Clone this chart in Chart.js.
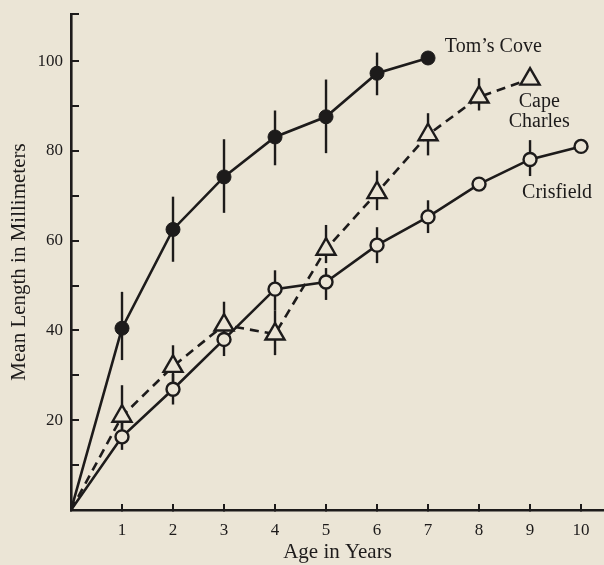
<!DOCTYPE html>
<html>
<head>
<meta charset="utf-8">
<script src="https://cdn.jsdelivr.net/npm/chart.js@4"></script>
<style>
  html, body { margin: 0; padding: 0; background: #ebe5d6; }
  #c { display: block; }
</style>
</head>
<body>
<canvas id="c" width="604" height="565"></canvas>
<script>
// ---- data ----
const ages = [0, 1, 2, 3, 4, 5, 6, 7, 8, 9, 10];

const tomsCove     = [0, 40.5, 62.5, 74.2, 83.1, 87.6, 97.3, 100.7];
const tomsCoveLow  = [null, 33.4, 55.3, 66.2, 76.8, 79.5, 92.4, null];
const tomsCoveHigh = [null, 48.6, 69.8, 82.6, 89.0, 95.9, 101.9, null];

const capeCharles     = [0, 20.9, 32.0, 41.2, 39.2, 58.1, 70.7, 83.6, 92.0, 96.0];
const capeCharlesLow  = [null, 15.5, 27.5, 36.5, 34.5, 55.0, 66.8, 79.0, 89.0, null];
const capeCharlesHigh = [null, 27.8, 36.7, 46.4, 44.5, 63.5, 75.6, 88.4, 96.2, null];

const crisfield     = [0, 16.3, 26.9, 38.0, 49.2, 50.8, 59.0, 65.3, 72.6, 78.1, 81.0];
const crisfieldLow  = [null, 13.4, 23.5, 34.3, 44.5, 46.8, 55.0, 61.7, null, 74.4, null];
const crisfieldHigh = [null, 20.0, 30.3, 41.7, 53.4, 53.9, 63.0, 69.0, null, 82.4, null];

const seriesNames = ["Tom\u2019s Cove", "Cape Charles", "Crisfield"];
const yTickLabels = [20, 40, 60, 80, 100];
const xTickLabels = [1, 2, 3, 4, 5, 6, 7, 8, 9, 10];

// ---- styling ----
const INK = '#1d1b1b';
const BG = '#ebe5d6';
const SERIF = "'Liberation Serif', 'DejaVu Serif', serif";

function pts(vals) { return vals.map((v, i) => ({ x: ages[i], y: v })); }
function radii(vals, r) { return vals.map((v, i) => i === 0 ? 0 : r); }

const errorBars = [
  { low: tomsCoveLow, high: tomsCoveHigh },
  { low: capeCharlesLow, high: capeCharlesHigh },
  { low: crisfieldLow, high: crisfieldHigh }
];

// annotation anchors in data units
const annotations = [
  { text: "Tom\u2019s Cove", x: 7.33, y: 103.3, align: 'left' },
  { text: "Cape", x: 9.18, y: 90.9, align: 'center' },
  { text: "Charles", x: 9.18, y: 86.6, align: 'center' },
  { text: "Crisfield", x: 9.53, y: 70.6, align: 'center' }
];

const bgPlugin = {
  id: 'bg',
  beforeDraw(chart) {
    const ctx = chart.ctx;
    ctx.save();
    ctx.fillStyle = BG;
    ctx.fillRect(0, 0, chart.width, chart.height);
    ctx.restore();
  }
};

const errPlugin = {
  id: 'errbars',
  beforeDatasetsDraw(chart) {
    const ctx = chart.ctx;
    const xs = chart.scales.x, ys = chart.scales.y;
    ctx.save();
    ctx.strokeStyle = INK;
    ctx.lineWidth = 2.4;
    ctx.lineCap = 'butt';
    errorBars.forEach(eb => {
      eb.low.forEach((lo, i) => {
        const hi = eb.high[i];
        if (lo == null || hi == null) return;
        const px = xs.getPixelForValue(ages[i]);
        ctx.beginPath();
        ctx.moveTo(px, ys.getPixelForValue(lo));
        ctx.lineTo(px, ys.getPixelForValue(hi));
        ctx.stroke();
      });
    });
    ctx.restore();
  }
};

const labelPlugin = {
  id: 'seriesLabels',
  afterDatasetsDraw(chart) {
    const ctx = chart.ctx;
    const xs = chart.scales.x, ys = chart.scales.y;
    ctx.save();
    ctx.fillStyle = INK;
    ctx.font = "20px " + SERIF;
    ctx.textBaseline = 'middle';
    annotations.forEach(a => {
      ctx.textAlign = a.align;
      ctx.fillText(a.text, xs.getPixelForValue(a.x), ys.getPixelForValue(a.y));
    });
    ctx.restore();
  }
};

new Chart(document.getElementById('c'), {
  type: 'line',
  data: {
    datasets: [
      {
        label: seriesNames[0],
        data: pts(tomsCove),
        borderColor: INK,
        borderWidth: 2.6,
        pointStyle: 'circle',
        pointRadius: radii(tomsCove, 7),
        pointBackgroundColor: INK,
        pointBorderColor: INK,
        pointBorderWidth: 1,
        tension: 0
      },
      {
        label: seriesNames[1],
        data: pts(capeCharles),
        borderColor: INK,
        borderWidth: 2.6,
        borderDash: [9, 6],
        pointStyle: 'triangle',
        pointRadius: radii(capeCharles, 11),
        pointBackgroundColor: BG,
        pointBorderColor: INK,
        pointBorderWidth: 2.4,
        tension: 0
      },
      {
        label: seriesNames[2],
        data: pts(crisfield),
        borderColor: INK,
        borderWidth: 2.6,
        pointStyle: 'circle',
        pointRadius: radii(crisfield, 6.5),
        pointBackgroundColor: BG,
        pointBorderColor: INK,
        pointBorderWidth: 2.4,
        tension: 0
      }
    ]
  },
  options: {
    responsive: false,
    animation: false,
    devicePixelRatio: 1,
    layout: { autoPadding: false, padding: { top: 14, right: 0, bottom: 0, left: 0 } },
    plugins: {
      legend: { display: false },
      tooltip: { enabled: false }
    },
    scales: {
      x: {
        type: 'linear',
        min: 0,
        max: 10.45,
        afterFit(s) { s.height = 55; s.paddingLeft = 0; s.paddingRight = 0; },
        border: { display: true, color: INK, width: 2.6 },
        grid: { display: true, drawOnChartArea: false, drawTicks: true, tickLength: -6, color: INK, lineWidth: 2 },
        ticks: {
          stepSize: 1,
          includeBounds: false,
          autoSkip: false,
          maxRotation: 0,
          padding: 16,
          color: INK,
          font: { family: SERIF, size: 17 },
          callback: v => xTickLabels.includes(Math.round(v)) && Math.abs(v - Math.round(v)) < 1e-6 ? String(Math.round(v)) : ''
        },
        title: {
          display: true,
          text: 'Age in Years',
          color: INK,
          font: { family: SERIF, size: 21 },
          padding: { top: 0, bottom: 0 }
        }
      },
      y: {
        type: 'linear',
        min: 0,
        max: 110.5,
        afterFit(s) { s.width = 71; s.paddingTop = 0; s.paddingBottom = 0; },
        border: { display: true, color: INK, width: 2.6 },
        grid: { display: true, drawOnChartArea: false, drawTicks: true, tickLength: -8, color: INK, lineWidth: 2 },
        ticks: {
          stepSize: 10,
          autoSkip: false,
          padding: 16,
          color: INK,
          font: { family: SERIF, size: 17 },
          callback: v => yTickLabels.includes(Math.round(v)) && Math.abs(v - Math.round(v)) < 1e-6 ? String(Math.round(v)) : ''
        },
        title: {
          display: true,
          text: 'Mean Length in Millimeters',
          color: INK,
          font: { family: SERIF, size: 21 },
          padding: { top: 7, bottom: 0 }
        }
      }
    }
  },
  plugins: [bgPlugin, errPlugin, labelPlugin]
});
</script>
</body>
</html>
